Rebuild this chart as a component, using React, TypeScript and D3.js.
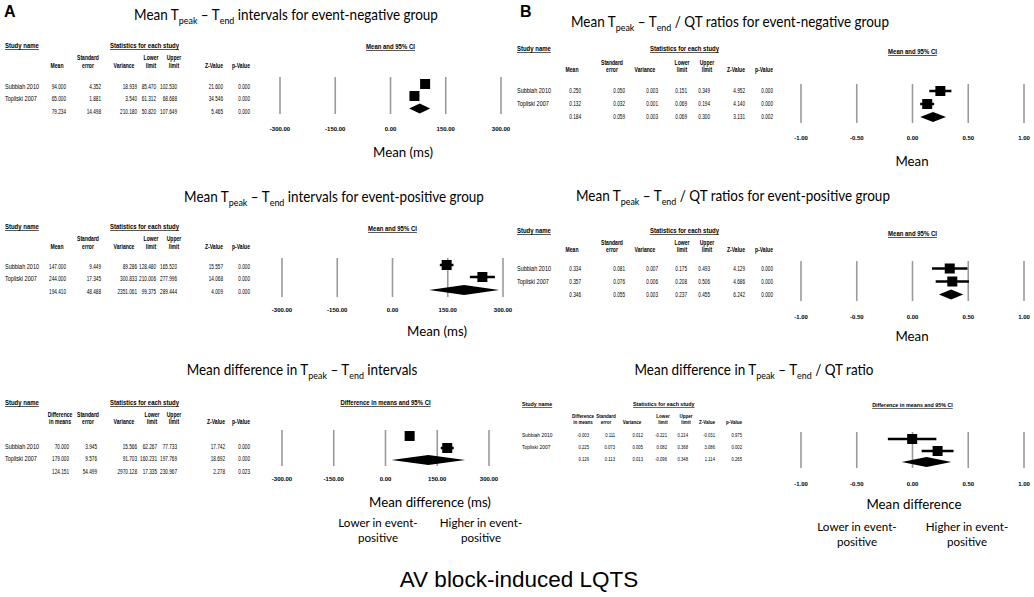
import React from "react";
import * as d3 from "d3";

// ---------- data ----------
const studyNames = ["Subbiah 2010", "Topliski 2007", ""];
const ticksMs = [-300, -150, 0, 150, 300];
const ticksRatio = [-1, -0.5, 0, 0.5, 1];

const headMean = [["", "Mean"], ["Standard", "error"], ["", "Variance"], ["Lower", "limit"], ["Upper", "limit"], ["", "Z-Value"], ["", "p-Value"]];
const headDiff = [["Difference", "in means"], ["Standard", "error"], ["", "Variance"], ["Lower", "limit"], ["Upper", "limit"], ["", "Z-Value"], ["", "p-Value"]];

// A1: Tpeak-Tend, event-negative
const a1Mean = [94.0, 65.0, 79.234];
const a1SE = [4.352, 1.881, 14.498];
const a1Var = [18.939, 3.54, 210.18];
const a1Lower = [85.47, 61.312, 50.82];
const a1Upper = [102.53, 68.688, 107.649];
const a1Z = [21.6, 34.546, 5.465];
const a1P = [0.0, 0.0, 0.0];

// A2: Tpeak-Tend, event-positive
const a2Mean = [147.0, 244.0, 194.41];
const a2SE = [9.449, 17.345, 48.488];
const a2Var = [89.286, 300.833, 2351.061];
const a2Lower = [128.48, 210.006, 99.375];
const a2Upper = [165.52, 277.996, 289.444];
const a2Z = [15.557, 14.068, 4.009];
const a2P = [0.0, 0.0, 0.0];

// A3: difference in Tpeak-Tend
const a3Diff = [70.0, 179.0, 124.151];
const a3SE = [3.945, 9.576, 54.499];
const a3Var = [15.566, 91.703, 2970.128];
const a3Lower = [62.267, 160.231, 17.335];
const a3Upper = [77.733, 197.769, 230.967];
const a3Z = [17.742, 18.692, 2.278];
const a3P = [0.0, 0.0, 0.023];

// B1: Tpeak-Tend/QT, event-negative
const b1Mean = [0.25, 0.132, 0.184];
const b1SE = [0.05, 0.032, 0.059];
const b1Var = [0.003, 0.001, 0.003];
const b1Lower = [0.151, 0.069, 0.069];
const b1Upper = [0.349, 0.194, 0.3];
const b1Z = [4.952, 4.14, 3.131];
const b1P = [0.0, 0.0, 0.002];

// B2: Tpeak-Tend/QT, event-positive
const b2Mean = [0.334, 0.357, 0.346];
const b2SE = [0.081, 0.076, 0.055];
const b2Var = [0.007, 0.006, 0.003];
const b2Lower = [0.175, 0.208, 0.237];
const b2Upper = [0.493, 0.506, 0.455];
const b2Z = [4.129, 4.686, 6.242];
const b2P = [0.0, 0.0, 0.0];

// B3: difference in Tpeak-Tend/QT
const b3Diff = [-0.003, 0.225, 0.126];
const b3SE = [0.111, 0.073, 0.113];
const b3Var = [0.012, 0.005, 0.013];
const b3Lower = [-0.221, 0.082, -0.096];
const b3Upper = [0.214, 0.368, 0.348];
const b3Z = [-0.031, 3.086, 1.114];
const b3P = [0.975, 0.002, 0.265];

// ---------- layout ----------
const TITLE_FONT = "Lato, 'Open Sans', sans-serif";
const TABLE_FONT = "Arial, 'Liberation Sans', sans-serif";

type Part = { t: string; sub?: boolean };
const tpeakParts = (pre: string, post: string): Part[] => [
  { t: pre + "T" },
  { t: "peak", sub: true },
  { t: " \u2013 T" },
  { t: "end", sub: true },
  { t: post },
];

const colsA = [66, 101, 137, 156, 177, 223, 250];
const colsB = [581, 625, 658, 687, 710, 745, 773];
const colsB3 = [589, 615, 643, 667, 688, 715, 742];
const offA = [9, 13, 13, 5, 3, 9, 9];

const panels = [
  {
    title: tpeakParts("Mean ", " intervals for event-negative group"), titleX: 286, titleY: 20,
    tableX: 5, statsX: 110, headY: 48, head1Y: 60, head2Y: 68, rowY: [88.5, 101, 113.5], fs: 6.5,
    markY: [84, 96, 108.5],
    cols: colsA, off: offA, heads: headMean,
    vals: [a1Mean, a1SE, a1Var, a1Lower, a1Upper, a1Z, a1P],
    est: a1Mean, lo: a1Lower, hi: a1Upper,
    ticks: ticksMs, x0: 280, x1: 501, lineTop: 77, lineBottom: 114, tickY: 131,
    plotHead: "Mean and 95% CI", plotHeadY: 49,
    axisTitle: "Mean (ms)", axisX: 403, axisY: 157,
  },
  {
    title: tpeakParts("Mean ", " intervals for event-positive group"), titleX: 334, titleY: 202,
    tableX: 5, statsX: 110, headY: 229, head1Y: 241, head2Y: 249, rowY: [268.5, 281, 293.5], fs: 6.5,
    markY: [265, 277, 290],
    cols: colsA, off: offA, heads: headMean,
    vals: [a2Mean, a2SE, a2Var, a2Lower, a2Upper, a2Z, a2P],
    est: a2Mean, lo: a2Lower, hi: a2Upper,
    ticks: ticksMs, x0: 282, x1: 503, lineTop: 258, lineBottom: 297, tickY: 312,
    plotHead: "Mean and 95% CI", plotHeadY: 231,
    axisTitle: "Mean (ms)", axisX: 437, axisY: 336,
  },
  {
    title: [{ t: "Mean difference in T" }, { t: "peak", sub: true }, { t: " \u2013 T" }, { t: "end", sub: true }, { t: " intervals" }] as Part[],
    titleX: 302, titleY: 375,
    tableX: 5, statsX: 110, headY: 405, head1Y: 417, head2Y: 424, rowY: [448.5, 461, 473.5], fs: 6.5,
    markY: [436, 448, 460],
    cols: [69, 97, 137, 157, 177, 225, 250], off: [9, 9, 13, 5, 3, 9, 9], heads: headDiff,
    vals: [a3Diff, a3SE, a3Var, a3Lower, a3Upper, a3Z, a3P],
    est: a3Diff, lo: a3Lower, hi: a3Upper,
    ticks: ticksMs, x0: 282, x1: 489, lineTop: 430, lineBottom: 466, tickY: 481,
    plotHead: "Difference in means and 95% CI", plotHeadY: 405,
    axisTitle: "Mean difference (ms)", axisX: 430, axisY: 507,
    favors: { lx: 378, rx: 481, y1: 527, y2: 541.5 },
  },
  {
    title: tpeakParts("Mean ", " / QT ratios for event-negative group"), titleX: 730, titleY: 27,
    tableX: 517, statsX: 650, headY: 51, head1Y: 65, head2Y: 72, rowY: [93, 106, 119], fs: 6.5,
    markY: [91, 104, 117],
    cols: colsB, off: offA, heads: headMean,
    vals: [b1Mean, b1SE, b1Var, b1Lower, b1Upper, b1Z, b1P],
    est: b1Mean, lo: b1Lower, hi: b1Upper,
    ticks: ticksRatio, x0: 801, x1: 1024, lineTop: 84, lineBottom: 123, tickY: 140,
    plotHead: "Mean and 95% CI", plotHeadY: 54,
    axisTitle: "Mean", axisX: 912, axisY: 166,
  },
  {
    title: tpeakParts("Mean ", " / QT ratios for event-positive group"), titleX: 733, titleY: 201,
    tableX: 517, statsX: 650, headY: 233, head1Y: 245, head2Y: 252, rowY: [271, 284, 297], fs: 6.5,
    markY: [268.5, 281.5, 294.5],
    cols: colsB, off: offA, heads: headMean,
    vals: [b2Mean, b2SE, b2Var, b2Lower, b2Upper, b2Z, b2P],
    est: b2Mean, lo: b2Lower, hi: b2Upper,
    ticks: ticksRatio, x0: 801, x1: 1024, lineTop: 261, lineBottom: 301, tickY: 319,
    plotHead: "Mean and 95% CI", plotHeadY: 236,
    axisTitle: "Mean", axisX: 912, axisY: 341,
  },
  {
    title: [{ t: "Mean difference in T" }, { t: "peak", sub: true }, { t: " \u2013 T" }, { t: "end", sub: true }, { t: " / QT ratio" }] as Part[],
    titleX: 754, titleY: 375,
    tableX: 522, statsX: 633, headY: 406, head1Y: 418, head2Y: 424, rowY: [437, 449, 461], fs: 5.8,
    markY: [439, 451, 462],
    cols: colsB3, off: [6, 9, 11, 4, 2, 8, 8], heads: headDiff,
    vals: [b3Diff, b3SE, b3Var, b3Lower, b3Upper, b3Z, b3P],
    est: b3Diff, lo: b3Lower, hi: b3Upper,
    ticks: ticksRatio, x0: 801, x1: 1024, lineTop: 432, lineBottom: 468, tickY: 486,
    plotHead: "Difference in means and 95% CI", plotHeadY: 407,
    axisTitle: "Mean difference", axisX: 914, axisY: 509,
    favors: { lx: 857, rx: 967, y1: 531, y2: 546 },
  },
];

function T({ x, y, sx = 1, anchor = "start", children, ...rest }: any) {
  return (
    <text transform={`translate(${x},${y}) scale(${sx},1)`} textAnchor={anchor} {...rest}>
      {children}
    </text>
  );
}

function Title({ parts, x, y, size }: { parts: Part[]; x: number; y: number; size: number }) {
  let inSub = false;
  return (
    <text transform={`translate(${x},${y}) scale(0.93,1)`} textAnchor="middle" fontFamily={TITLE_FONT} fontSize={size} fill="#000" style={{ whiteSpace: "pre" }}>
      {parts.map((p, i) => {
        let dy = 0;
        if (p.sub && !inSub) dy = 4;
        if (!p.sub && inSub) dy = -4;
        inSub = !!p.sub;
        return (
          <tspan key={i} dy={dy} fontSize={p.sub ? size * 0.66 : size}>
            {p.t}
          </tspan>
        );
      })}
    </text>
  );
}

function Panel({ c }: { c: any }) {
  const x = d3.scaleLinear().domain([c.ticks[0], c.ticks[c.ticks.length - 1]]).range([c.x0, c.x1]);
  const plotMid = (c.x0 + c.x1) / 2;
  const sq = 10;
  const dh = 10;
  return (
    <g>
      <Title parts={c.title} x={c.titleX} y={c.titleY} size={14.5} />
      {/* table */}
      <g fontFamily={TABLE_FONT} fontSize={c.fs} fill="#000">
        <T x={c.tableX} y={c.headY} sx={0.92} fontWeight="bold" style={{ textDecoration: "underline" }}>Study name</T>
        <T x={c.statsX} y={c.headY} sx={0.92} fontWeight="bold" style={{ textDecoration: "underline" }}>Statistics for each study</T>
        {c.heads.map((h: string[], j: number) => (
          <g key={j} fontWeight="bold">
            <T x={c.cols[j] - c.off[j]} y={c.head1Y} sx={0.78} anchor="middle">{h[0]}</T>
            <T x={c.cols[j] - c.off[j]} y={c.head2Y} sx={0.78} anchor="middle">{h[1]}</T>
          </g>
        ))}
        {studyNames.map((s, i) => (
          <g key={i}>
            <T x={c.tableX} y={c.rowY[i]} sx={0.85}>{s}</T>
            {c.vals.map((arr: number[], j: number) => (
              <T key={j} x={c.cols[j]} y={c.rowY[i]} sx={0.72} anchor="end">{arr[i].toFixed(3)}</T>
            ))}
          </g>
        ))}
      </g>
      {/* plot */}
      <T x={plotMid} y={c.plotHeadY} sx={0.92} anchor="middle" fontFamily={TABLE_FONT} fontSize={c.fs} fontWeight="bold" style={{ textDecoration: "underline" }}>
        {c.plotHead}
      </T>
      {c.ticks.map((t: number, k: number) => (
        <g key={k}>
          <line x1={x(t)} x2={x(t)} y1={c.lineTop} y2={c.lineBottom} stroke="#9a9a9a" strokeWidth={1.6} />
          <text x={x(t)} y={c.tickY} textAnchor="middle" fontFamily={TABLE_FONT} fontSize={6} fontWeight="bold">
            {t.toFixed(2)}
          </text>
        </g>
      ))}
      {[0, 1].map((i) => (
        <g key={i}>
          <line x1={x(c.lo[i])} x2={x(c.hi[i])} y1={c.markY[i]} y2={c.markY[i]} stroke="#000" strokeWidth={2.5} />
          <rect x={x(c.est[i]) - sq / 2} y={c.markY[i] - sq / 2} width={sq} height={sq} fill="#000" />
        </g>
      ))}
      <polygon
        points={[
          [x(c.lo[2]), c.markY[2]],
          [x(c.est[2]), c.markY[2] - dh / 2],
          [x(c.hi[2]), c.markY[2]],
          [x(c.est[2]), c.markY[2] + dh / 2],
        ].map((p) => p.join(",")).join(" ")}
        fill="#000"
      />
      <T x={c.axisX} y={c.axisY} sx={0.95} anchor="middle" fontFamily={TITLE_FONT} fontSize={14}>{c.axisTitle}</T>
      {c.favors && (
        <g fontFamily={TITLE_FONT} fontSize={12}>
          <T x={c.favors.lx} y={c.favors.y1} sx={0.97} anchor="middle">Lower in event-</T>
          <T x={c.favors.lx} y={c.favors.y2} sx={0.97} anchor="middle">positive</T>
          <T x={c.favors.rx} y={c.favors.y1} sx={0.97} anchor="middle">Higher in event-</T>
          <T x={c.favors.rx} y={c.favors.y2} sx={0.97} anchor="middle">positive</T>
        </g>
      )}
    </g>
  );
}

export default function App() {
  return (
    <svg width={1034} height={597} style={{ position: "absolute", left: 0, top: 0, background: "#fff" }}>
      <rect width={1034} height={597} fill="#fff" />
      <text x={4} y={17} fontFamily={TABLE_FONT} fontWeight="bold" fontSize={16}>A</text>
      <text x={520} y={17} fontFamily={TABLE_FONT} fontWeight="bold" fontSize={16}>B</text>
      {panels.map((c, i) => (
        <Panel key={i} c={c} />
      ))}
      <text x={519} y={587} textAnchor="middle" fontFamily={TABLE_FONT} fontSize={22.5}>AV block-induced LQTS</text>
    </svg>
  );
}
